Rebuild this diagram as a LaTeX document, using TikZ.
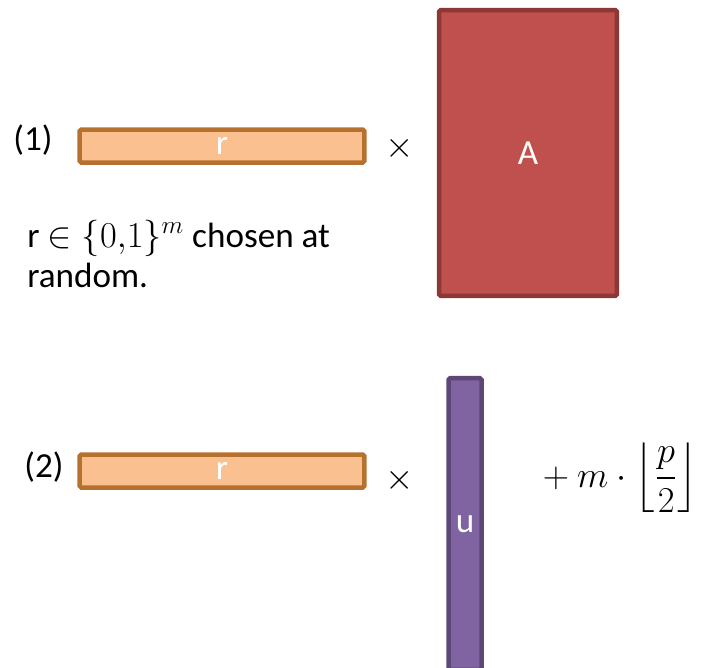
\documentclass[tikz,border=0pt]{standalone}
\usepackage{amsmath,amssymb}
\usepackage[no-math]{fontspec}
\setmainfont{Carlito}

\definecolor{rfill}{HTML}{FAC08F}
\definecolor{rline}{HTML}{B7712F}
\definecolor{afill}{HTML}{C0504D}
\definecolor{aline}{HTML}{8C3836}
\definecolor{ufill}{HTML}{8064A2}
\definecolor{uline}{HTML}{5C4776}

\begin{document}
\begin{tikzpicture}[
    x=0.02cm, y=-0.02cm,
    txt/.style={inner sep=0pt, font=\fontsize{20}{24}\selectfont},
    block/.style={draw, line width=0.09cm, rounded corners=1pt, inner sep=0pt,
        text=white, font=\fontsize{20}{24}\selectfont},
    rvec/.style={block, fill=rfill, draw=rline, minimum width=5.7cm, minimum height=0.66cm},
    amat/.style={block, fill=afill, draw=aline, minimum width=3.56cm, minimum height=5.72cm},
    uvec/.style={block, fill=ufill, draw=uline, minimum width=0.66cm, minimum height=5.84cm},
]
    \useasboundingbox (0,0) rectangle (705,667);

    % --- Step (1): r times A ---
    \node[txt]  (lab1)  at (33,140)  {(1)};
    \node[rvec] (r1)    at (222,146) {r};
    \node[txt]  (times1) at (400,148) {$\times$};
    \node[amat] (A)     at (528,153) {A};

    % note under the first row
    \node[txt, anchor=base west] (note1) at (27,247) {r $\in \{0{,}1\}^m$ chosen at};
    \node[txt, anchor=base west] (note2) at (27,287) {random.};

    % --- Step (2): r times u, plus m * floor(p/2) ---
    \node[txt]  (lab2)  at (44,467)  {(2)};
    \node[rvec] (r2)    at (222,471) {r};
    \node[txt]  (times2) at (400,480) {$\times$};
    \node[uvec] (u)     at (465,524) {u};
    \node[txt, font=\fontsize{22}{26}\selectfont, anchor=east] (extra) at (698,478)
        {$\displaystyle {}+ m\cdot\left\lfloor\frac{p}{2}\right\rfloor$};

\end{tikzpicture}
\end{document}
